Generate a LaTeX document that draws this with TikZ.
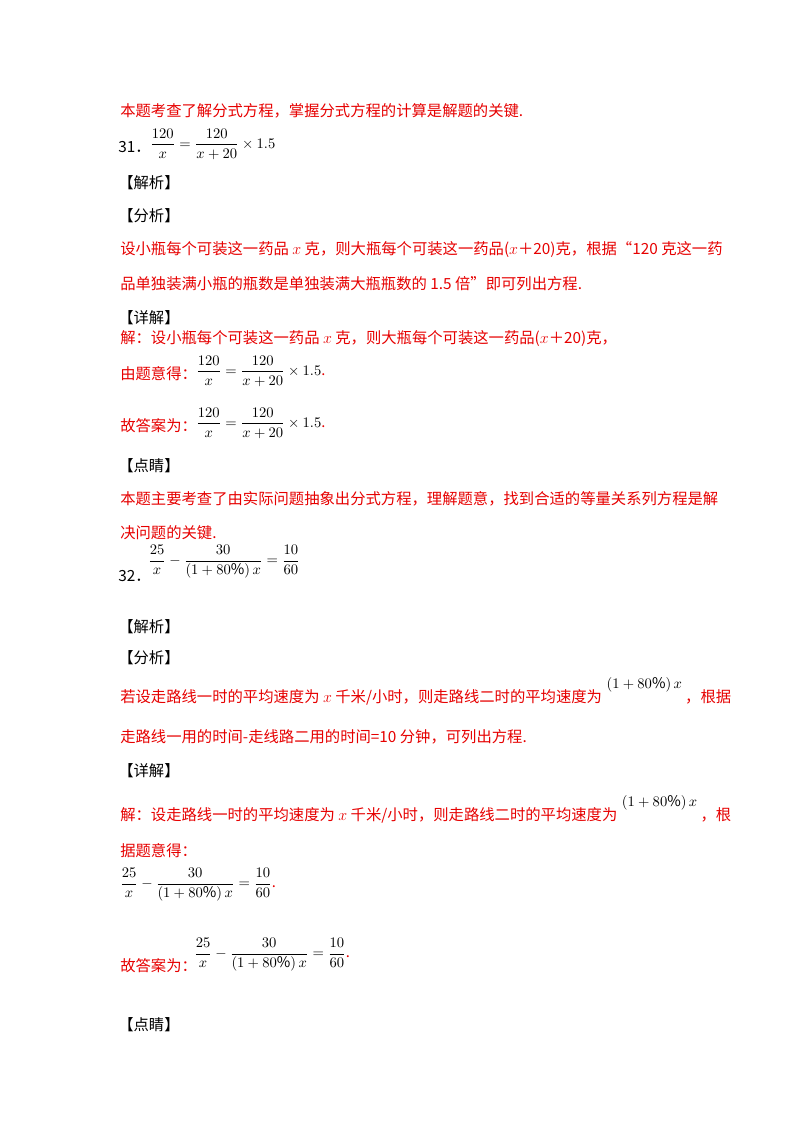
\documentclass[tikz,border=0pt]{standalone}
\usepackage{fontspec}
\setmainfont{Noto Sans CJK SC}
\definecolor{tred}{RGB}{230,0,0}
\begin{document}
\begin{tikzpicture}[x=0.75pt,y=-0.75pt,
  t/.style={anchor=west,inner sep=0pt,font=\fontsize{11.5}{14}\selectfont},
  r/.style={t,text=tred},
  k/.style={t,text=black},
  m/.style={anchor=west,inner sep=0pt,text=black,font=\fontsize{11}{13}\selectfont}]
\useasboundingbox (0,0) rectangle (800,1132);
\newcommand{\eqa}{$\displaystyle\frac{120}{x}=\frac{120}{x+20}\times1.5$}
\newcommand{\eqb}{$\displaystyle\frac{25}{x}-\frac{30}{\left(1+80\%\right)x}=\frac{10}{60}$}
\node[r] (l1) at (120,111) {本题考查了解分式方程，掌握分式方程的计算是解题的关键.};
\node[k] (n31) at (118,147) {31．};
\node[m] (e31) at (150,144) {\eqa};
\node[k] (h1) at (118,183) {【解析】};
\node[k] (h2) at (118,216) {【分析】};
\node[r] (l2) at (120,250) {设小瓶每个可装这一药品 $x$ 克，则大瓶每个可装这一药品($x$＋20)克，根据“120 克这一药};
\node[r] (l3) at (120,284) {品单独装满小瓶的瓶数是单独装满大瓶瓶数的 1.5 倍”即可列出方程.};
\node[k] (h3) at (118,318) {【详解】};
\node[r] (l4) at (120,339) {解：设小瓶每个可装这一药品 $x$ 克，则大瓶每个可装这一药品($x$＋20)克，};
\node[r] (l5) at (120,374) {由题意得：};
\node[m] (e5) at (196,371) {\eqa\textcolor{tred}{.}};
\node[r] (l6) at (120,426) {故答案为：};
\node[m] (e6) at (196,423) {\eqa\textcolor{tred}{.}};
\node[k] (h4) at (118,466) {【点睛】};
\node[r] (l7) at (120,499) {本题主要考查了由实际问题抽象出分式方程，理解题意，找到合适的等量关系列方程是解};
\node[r] (l8) at (120,533) {决问题的关键.};
\node[k] (n32) at (118,576) {32．};
\node[m] (e32) at (148,562) {\eqb};
\node[k] (h5) at (118,627) {【解析】};
\node[k] (h6) at (118,658) {【分析】};
\node[r] (l9) at (120,697) {若设走路线一时的平均速度为 $x$ 千米/小时，则走路线二时的平均速度为};
\node[m] (m9) at ([xshift=3pt,yshift=9pt]l9.east) {$\left(1+80\%\right)x$};
\node[r] (l9b) at ([xshift=2pt,yshift=-9pt]m9.east) {，根据};
\node[r] (l10) at (120,737) {走路线一用的时间-走线路二用的时间=10 分钟，可列出方程.};
\node[k] (h7) at (118,771) {【详解】};
\node[r] (l11) at (120,815) {解：设走路线一时的平均速度为 $x$ 千米/小时，则走路线二时的平均速度为};
\node[m] (m11) at ([xshift=3pt,yshift=9pt]l11.east) {$\left(1+80\%\right)x$};
\node[r] (l11b) at ([xshift=2pt,yshift=-9pt]m11.east) {，根};
\node[r] (l12) at (120,851) {据题意得：};
\node[m] (e12) at (120,885) {\eqb\textcolor{tred}{.}};
\node[r] (l13) at (120,966) {故答案为：};
\node[m] (e13) at (194,955) {\eqb\textcolor{tred}{.}};
\node[k] (h8) at (118,1025) {【点睛】};
\end{tikzpicture}
\end{document}
